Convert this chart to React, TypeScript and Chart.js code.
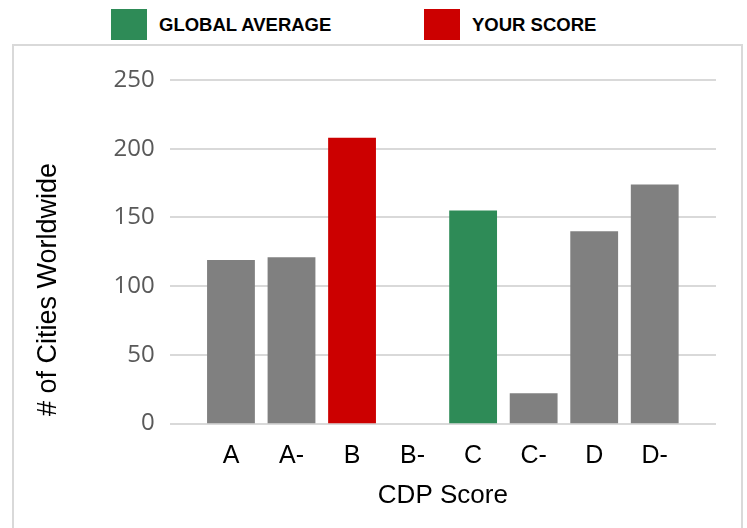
import React, { useEffect, useRef } from "react";
import { Chart, registerables } from "chart.js";

Chart.register(...registerables);

const categories = ["A", "A-", "B", "B-", "C", "C-", "D", "D-"];
const cityCounts = [119, 121, 208, 0, 155, 22, 140, 174];
const barColors = ["#808080", "#808080", "#cc0000", "#808080", "#2e8b57", "#808080", "#808080", "#808080"];
const yTicks = [0, 50, 100, 150, 200, 250];
const yTitle = "# of Cities Worldwide";
const xTitle = "CDP Score";
const legendItems = [
  { label: "GLOBAL AVERAGE", color: "#2e8b57" },
  { label: "YOUR SCORE", color: "#cc0000" },
];

const gridPlugin = {
  id: "extGrid",
  beforeDatasetsDraw(chart: any) {
    const { ctx, scales } = chart;
    const y = scales.y;
    ctx.save();
    ctx.strokeStyle = "#d9d9d9";
    ctx.lineWidth = 2;
    for (const v of yTicks) {
      const py = Math.round(y.getPixelForValue(v));
      ctx.beginPath();
      ctx.moveTo(170, py);
      ctx.lineTo(716, py);
      ctx.stroke();
    }
    ctx.restore();
  },
  afterDraw(chart: any) {
    const { ctx } = chart;
    ctx.save();
    ctx.translate(49, 289.5);
    ctx.rotate(-Math.PI / 2);
    ctx.fillStyle = "#000";
    ctx.font = "27px 'Liberation Sans'";
    ctx.textAlign = "center";
    ctx.textBaseline = "middle";
    ctx.fillText(yTitle, 0, 0);
    ctx.restore();
  },
};

export default function App() {
  const ref = useRef<HTMLCanvasElement>(null);
  useEffect(() => {
    const chart = new Chart(ref.current!, {
      type: "bar",
      data: {
        labels: categories,
        datasets: [
          {
            data: cityCounts,
            backgroundColor: barColors,
            barPercentage: 0.79,
            categoryPercentage: 1,
          },
        ],
      },
      options: {
        animation: false,
        responsive: false,
        layout: { padding: { top: 80, right: 62, bottom: 0, left: 0 } },
        plugins: { legend: { display: false }, tooltip: { enabled: false } },
        scales: {
          x: {
            grid: { display: false, drawTicks: false },
            border: { display: false },
            ticks: { color: "#000", font: { family: "Liberation Sans", size: 25 }, padding: 18 },
            title: {
              display: true,
              text: xTitle,
              color: "#000",
              font: { family: "Liberation Sans", size: 26 },
              padding: { top: 0, bottom: 17 },
            },
            afterFit: (s: any) => {
              s.height = 104.5;
            },
          },
          y: {
            min: 0,
            max: 250,
            afterBuildTicks: (s: any) => {
              s.ticks = yTicks.map((v) => ({ value: v }));
            },
            grid: { display: false, drawTicks: false },
            border: { display: false },
            ticks: { color: "#595959", font: { family: "Open Sans", size: 24 }, padding: 46 },
            title: { display: false },
            afterFit: (s: any) => {
              s.width = 200.7;
            },
          },
        },
      },
      plugins: [gridPlugin],
    });
    return () => chart.destroy();
  }, []);

  return (
    <div style={{ position: "absolute", left: 0, top: 0, width: 747, height: 528, overflow: "hidden", background: "#fff" }}>
      <div
        style={{
          position: "absolute",
          left: 12,
          top: 44,
          width: 727,
          height: 520,
          border: "2px solid #d9d9d9",
        }}
      />
      {legendItems.map((it, i) => (
        <div
          key={it.label}
          style={{
            position: "absolute",
            left: i === 0 ? 111 : 424,
            top: 9,
            height: 31,
            display: "flex",
            alignItems: "center",
            fontFamily: "Liberation Sans",
            fontWeight: "bold",
            fontSize: 18.5,
            color: "#000",
            whiteSpace: "nowrap",
          }}
        >
          <span style={{ display: "inline-block", width: 36, height: 31, background: it.color, marginRight: 12 }} />
          <span>{it.label}</span>
        </div>
      ))}
      <canvas ref={ref} width={747} height={528} style={{ position: "absolute", left: 0, top: 0 }} />
    </div>
  );
}
